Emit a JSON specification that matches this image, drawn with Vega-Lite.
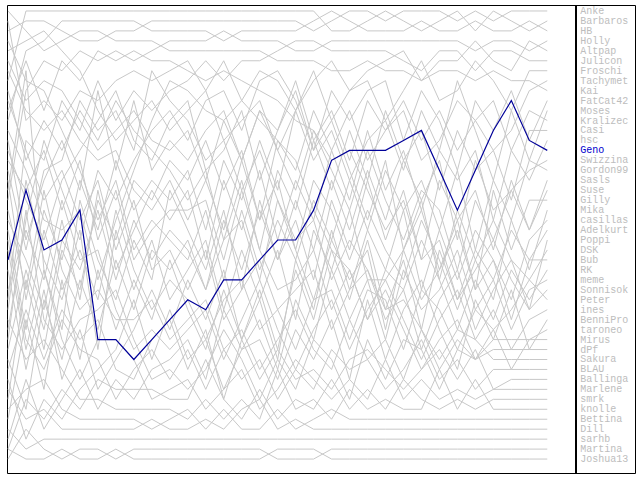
{
"$schema": "https://vega.github.io/schema/vega-lite/v6.json",
"width": 640, "height": 480,
"autosize": {"type": "fit", "contains": "padding"},
"padding": {"left": 5, "top": 4, "right": 5, "bottom": 6},
"background": "white",
"config": {"view": {"stroke": "black", "strokeWidth": 1}},
"datasets": {"ranks": [
{"n":"Anke","t":[1,2,3,4,5,6,7,8,9,10,11,12,13,14,15,16,17,18,19,20,21,22,23,24,25,26,27,28,29,30,31],"r":[3,2,2,3,4,4,3,3,2,2,2,2,2,2,2,2,2,3,2,1,1,2,1,1,1,2,1,2,1,1,1]},
{"n":"Barbaros","t":[1,2,3,4,5,6,7,8,9,10,11,12,13,14,15,16,17,18,19,20,21,22,23,24,25,26,27,28,29,30,31],"r":[8,1,1,1,1,1,1,1,1,1,1,1,1,1,1,1,1,1,3,3,2,1,2,3,2,1,3,1,2,3,2]},
{"n":"HB","t":[1,2,3,4,5,6,7,8,9,10,11,12,13,14,15,16,17,18,19,20,21,22,23,24,25,26,27,28,29,30,31],"r":[12,5,4,2,2,2,2,2,3,3,3,3,4,3,3,3,3,2,1,2,3,3,3,2,3,3,2,3,3,2,3]},
{"n":"Holly","t":[1,2,3,4,5,6,7,8,9,10,11,12,13,14,15,16,17,18,19,20,21,22,23,24,25,26,27,28,29,30,31],"r":[20,9,6,7,5,6,5,6,5,4,4,4,3,4,4,4,5,5,4,4,4,4,4,4,4,4,5,4,4,5,4]},
{"n":"Altpap","t":[1,2,3,4,5,6,7,8,9,10,11,12,13,14,15,16,17,18,19,20,21,22,23,24,25,26,27,28,29,30,31],"r":[2,12,10,12,9,10,8,7,8,7,6,9,6,10,7,8,11,8,6,9,7,6,5,8,6,6,4,6,7,4,5]},
{"n":"Julicon","t":[1,2,3,4,5,6,7,8,9,10,11,12,13,14,15,16,17,18,19,20,21,22,23,24,25,26,27,28,29,30,31],"r":[30,14,16,10,13,8,12,9,11,9,8,6,8,6,6,5,4,4,5,5,5,5,6,7,5,5,7,5,5,6,6]},
{"n":"Froschi","t":[1,2,3,4,5,6,7,8,9,10,11,12,13,14,15,16,17,18,19,20,21,22,23,24,25,26,27,28,29,30,31],"r":[5,4,3,5,7,11,14,12,10,13,11,9,14,12,10,15,11,7,12,9,8,12,9,6,10,9,6,8,11,7,7]},
{"n":"Tachymet","t":[1,2,3,4,5,6,7,8,9,10,11,12,13,14,15,16,17,18,19,20,21,22,23,24,25,26,27,28,29,30,31],"r":[15,20,24,18,15,12,9,14,16,12,10,17,15,11,18,13,8,14,11,16,10,13,11,16,14,10,12,15,13,9,8]},
{"n":"Kai","t":[1,2,3,4,5,6,7,8,9,10,11,12,13,14,15,16,17,18,19,20,21,22,23,24,25,26,27,28,29,30,31],"r":[1,3,5,4,3,3,4,4,4,5,5,5,5,5,5,6,6,6,7,7,6,7,7,8,7,7,8,7,8,8,9]},
{"n":"FatCat42","t":[1,2,3,4,5,6,7,8,9,10,11,12,13,14,15,16,17,18,19,20,21,22,23,24,25,26,27,28,29,30,31],"r":[33,22,14,19,24,17,20,16,13,11,14,10,9,13,8,7,10,15,9,12,9,8,14,9,12,17,10,13,9,14,10]},
{"n":"Moses","t":[1,2,3,4,5,6,7,8,9,10,11,12,13,14,15,16,17,18,19,20,21,22,23,24,25,26,27,28,29,30,31],"r":[18,30,21,26,18,23,16,21,18,20,17,23,16,20,14,19,11,16,13,18,14,12,17,11,15,8,13,18,11,16,11]},
{"n":"Kralizec","t":[1,2,3,4,5,6,7,8,9,10,11,12,13,14,15,16,17,18,19,20,21,22,23,24,25,26,27,28,29,30,31],"r":[40,28,35,25,29,20,24,18,20,16,18,14,19,15,22,14,17,11,15,11,16,13,10,14,11,15,12,10,15,11,12]},
{"n":"Casi","t":[1,2,3,4,5,6,7,8,9,10,11,12,13,14,15,16,17,18,19,20,21,22,23,24,25,26,27,28,29,30,31],"r":[9,16,12,15,11,14,10,13,15,17,20,17,24,18,25,17,21,14,19,13,18,11,16,13,19,13,17,15,20,13,13]},
{"n":"hsc","t":[1,2,3,4,5,6,7,8,9,10,11,12,13,14,15,16,17,18,19,20,21,22,23,24,25,26,27,28,29,30,31],"r":[22,26,31,22,30,19,27,23,19,22,19,26,18,23,17,24,18,22,15,20,13,19,15,21,15,18,15,22,15,18,14]},
{"n":"Geno","t":[1,2,3,4,5,6,7,8,9,10,11,12,13,14,15,16,17,18,19,20,21,22,23,24,25,26,27,28,29,30,31],"r":[26,19,25,24,21,34,34,36,34,32,30,31,28,28,26,24,24,21,16,15,15,15,14,13,17,21,17,13,10,14,15]},
{"n":"Swizzina","t":[1,2,3,4,5,6,7,8,9,10,11,12,13,14,15,16,17,18,19,20,21,22,23,24,25,26,27,28,29,30,31],"r":[36,41,30,36,28,33,26,31,25,27,24,29,22,27,21,26,20,25,18,23,17,22,16,20,16,24,16,21,19,17,16]},
{"n":"Gordon99","t":[1,2,3,4,5,6,7,8,9,10,11,12,13,14,15,16,17,18,19,20,21,22,23,24,25,26,27,28,29,30,31],"r":[4,8,9,13,17,22,18,25,22,24,26,21,28,21,27,22,26,20,24,18,23,17,21,18,23,17,25,18,22,16,17]},
{"n":"Sasls","t":[1,2,3,4,5,6,7,8,9,10,11,12,13,14,15,16,17,18,19,20,21,22,23,24,25,26,27,28,29,30,31],"r":[25,35,27,33,20,26,30,24,28,19,23,27,21,29,20,26,22,28,20,25,18,24,19,26,18,22,19,25,18,23,18]},
{"n":"Suse","t":[1,2,3,4,5,6,7,8,9,10,11,12,13,14,15,16,17,18,19,20,21,22,23,24,25,26,27,28,29,30,31],"r":[6,10,8,9,12,15,13,11,14,15,13,18,12,16,11,15,19,13,17,21,15,20,24,19,21,27,20,24,19,23,19]},
{"n":"Gilly","t":[1,2,3,4,5,6,7,8,9,10,11,12,13,14,15,16,17,18,19,20,21,22,23,24,25,26,27,28,29,30,31],"r":[31,18,26,30,23,35,23,29,24,30,27,24,31,25,30,25,32,23,27,21,28,28,25,21,27,22,29,19,25,20,20]},
{"n":"Mika","t":[1,2,3,4,5,6,7,8,9,10,11,12,13,14,15,16,17,18,19,20,21,22,23,24,25,26,27,28,29,30,31],"r":[14,24,18,14,19,9,17,10,17,14,16,13,11,16,11,13,9,15,12,17,22,16,25,20,28,21,26,30,22,27,21]},
{"n":"casillas","t":[1,2,3,4,5,6,7,8,9,10,11,12,13,14,15,16,17,18,19,20,21,22,23,24,25,26,27,28,29,30,31],"r":[42,32,39,28,36,27,33,28,32,26,31,35,29,34,30,36,26,31,23,29,23,27,21,29,23,28,23,26,30,24,22]},
{"n":"Adelkurt","t":[1,2,3,4,5,6,7,8,9,10,11,12,13,14,15,16,17,18,19,20,21,22,23,24,25,26,27,28,29,30,31],"r":[11,6,11,6,8,5,6,5,6,6,7,8,7,8,9,10,12,13,16,15,19,23,20,26,24,30,25,28,23,26,23]},
{"n":"Poppi","t":[1,2,3,4,5,6,7,8,9,10,11,12,13,14,15,16,17,18,19,20,21,22,23,24,25,26,27,28,29,30,31],"r":[27,37,29,38,33,39,36,33,29,33,28,32,27,34,29,35,27,32,25,30,24,31,26,33,25,30,27,24,28,31,24]},
{"n":"DSK","t":[1,2,3,4,5,6,7,8,9,10,11,12,13,14,15,16,17,18,19,20,21,22,23,24,25,26,27,28,29,30,31],"r":[7,11,13,11,14,16,15,19,21,18,22,18,23,16,22,18,25,18,21,26,21,25,28,22,26,31,26,22,26,28,25]},
{"n":"Bub","t":[1,2,3,4,5,6,7,8,9,10,11,12,13,14,15,16,17,18,19,20,21,22,23,24,25,26,27,28,29,30,31],"r":[35,27,33,24,27,21,28,22,26,23,25,29,24,22,28,20,25,30,24,28,25,33,25,30,27,23,29,26,32,26,26]},
{"n":"RK","t":[1,2,3,4,5,6,7,8,9,10,11,12,13,14,15,16,17,18,19,20,21,22,23,24,25,26,27,28,29,30,31],"r":[16,19,15,21,16,24,19,26,23,21,21,20,26,19,25,29,28,25,31,27,32,27,29,24,28,33,28,32,27,30,27]},
{"n":"meme","t":[1,2,3,4,5,6,7,8,9,10,11,12,13,14,15,16,17,18,19,20,21,22,23,24,25,26,27,28,29,30,31],"r":[44,38,43,40,37,41,38,40,37,36,34,38,31,35,32,37,30,34,27,32,28,34,27,31,29,25,31,28,33,29,28]},
{"n":"Sonnisok","t":[1,2,3,4,5,6,7,8,9,10,11,12,13,14,15,16,17,18,19,20,21,22,23,24,25,26,27,28,29,30,31],"r":[10,15,20,17,22,18,25,20,27,25,29,25,32,29,26,31,29,27,33,29,27,32,29,35,30,27,33,29,26,31,29]},
{"n":"Peter","t":[1,2,3,4,5,6,7,8,9,10,11,12,13,14,15,16,17,18,19,20,21,22,23,24,25,26,27,28,29,30,31],"r":[23,33,23,29,25,30,21,27,31,28,30,34,30,28,33,31,35,30,29,34,29,30,35,29,31,35,31,33,31,28,30]},
{"n":"ines","t":[1,2,3,4,5,6,7,8,9,10,11,12,13,14,15,16,17,18,19,20,21,22,23,24,25,26,27,28,29,30,31],"r":[29,23,28,20,26,25,31,35,33,35,33,31,36,32,28,33,37,33,30,35,31,28,32,36,32,29,34,31,35,32,31]},
{"n":"BenniPro","t":[1,2,3,4,5,6,7,8,9,10,11,12,13,14,15,16,17,18,19,20,21,22,23,24,25,26,27,28,29,30,31],"r":[38,44,40,42,39,37,35,30,36,31,36,34,39,35,34,38,33,36,32,38,30,36,31,28,33,37,30,34,29,35,32]},
{"n":"taroneo","t":[1,2,3,4,5,6,7,8,9,10,11,12,13,14,15,16,17,18,19,20,21,22,23,24,25,26,27,28,29,30,31],"r":[13,17,22,23,21,28,22,17,12,8,9,11,12,10,12,14,16,21,25,27,32,29,33,37,34,32,36,33,37,34,33]},
{"n":"Mirus","t":[1,2,3,4,5,6,7,8,9,10,11,12,13,14,15,16,17,18,19,20,21,22,23,24,25,26,27,28,29,30,31],"r":[21,29,19,27,31,29,32,32,30,34,32,30,35,33,37,34,31,35,37,32,36,34,38,33,37,34,36,34,34,34,34]},
{"n":"dPf","t":[1,2,3,4,5,6,7,8,9,10,11,12,13,14,15,16,17,18,19,20,21,22,23,24,25,26,27,28,29,30,31],"r":[34,21,32,35,32,31,29,34,38,37,39,37,33,36,40,36,39,34,36,40,34,38,34,35,39,35,36,35,35,35,35]},
{"n":"Sakura","t":[1,2,3,4,5,6,7,8,9,10,11,12,13,14,15,16,17,18,19,20,21,22,23,24,25,26,27,28,29,30,31],"r":[17,25,17,16,10,13,11,15,7,10,12,16,14,19,15,20,24,22,28,24,27,31,30,33,36,33,34,36,36,36,36]},
{"n":"BLAU","t":[1,2,3,4,5,6,7,8,9,10,11,12,13,14,15,16,17,18,19,20,21,22,23,24,25,26,27,28,29,30,31],"r":[24,34,37,32,35,36,40,37,35,38,35,39,35,38,36,40,37,39,35,37,36,39,37,34,38,36,39,37,37,37,37]},
{"n":"Ballinga","t":[1,2,3,4,5,6,7,8,9,10,11,12,13,14,15,16,17,18,19,20,21,22,23,24,25,26,27,28,29,30,31],"r":[37,31,36,31,34,32,37,38,34,32,37,33,40,34,38,35,38,37,39,36,35,37,39,37,35,38,35,39,38,38,38]},
{"n":"Marlene","t":[1,2,3,4,5,6,7,8,9,10,11,12,13,14,15,16,17,18,19,20,21,22,23,24,25,26,27,28,29,30,31],"r":[19,7,27,34,38,34,34,36,40,39,38,41,39,37,41,39,36,38,40,38,40,36,40,38,40,39,40,39,39,39,39]},
{"n":"smrk","t":[1,2,3,4,5,6,7,8,9,10,11,12,13,14,15,16,17,18,19,20,21,22,23,24,25,26,27,28,29,30,31],"r":[45,40,42,39,41,38,39,39,39,40,40,36,40,42,39,42,40,41,38,41,39,41,38,40,41,40,41,40,40,40,40]},
{"n":"knolle","t":[1,2,3,4,5,6,7,8,9,10,11,12,13,14,15,16,17,18,19,20,21,22,23,24,25,26,27,28,29,30,31],"r":[32,36,34,37,40,40,41,41,41,41,42,40,42,40,42,37,41,40,42,39,41,40,41,41,37,41,38,41,41,41,41]},
{"n":"Bettina","t":[1,2,3,4,5,6,7,8,9,10,11,12,13,14,15,16,17,18,19,20,21,22,23,24,25,26,27,28,29,30,31],"r":[41,39,38,41,42,42,42,42,43,42,41,43,41,43,43,41,43,42,41,42,42,42,42,42,42,42,42,42,42,42,42]},
{"n":"Dill","t":[1,2,3,4,5,6,7,8,9,10,11,12,13,14,15,16,17,18,19,20,21,22,23,24,25,26,27,28,29,30,31],"r":[39,42,41,43,43,43,43,43,42,43,43,42,43,41,40,43,42,43,43,43,43,43,43,43,43,43,43,43,43,43,43]},
{"n":"sarhb","t":[1,2,3,4,5,6,7,8,9,10,11,12,13,14,15,16,17,18,19,20,21,22,23,24,25,26,27,28,29,30,31],"r":[43,45,44,44,44,44,44,44,44,44,44,44,44,44,44,44,44,44,44,44,44,44,44,44,44,44,44,44,44,44,44]},
{"n":"Martina","t":[1,2,3,4,5,6,7,8,9,10,11,12,13,14,15,16,17,18,19,20,21,22,23,24,25,26,27,28,29,30,31],"r":[46,43,45,46,45,45,46,45,45,45,45,45,45,45,45,46,46,46,45,45,45,45,45,45,45,45,45,45,45,45,45]},
{"n":"Joshua13","t":[1,2,3,4,5,6,7,8,9,10,11,12,13,14,15,16,17,18,19,20,21,22,23,24,25,26,27,28,29,30,31],"r":[45,46,46,45,46,46,45,46,46,46,46,46,46,46,46,45,45,45,46,46,46,46,46,46,46,46,46,46,46,46,46]}
]},
"data": {"name": "ranks"},
"transform": [{"flatten": ["t", "r"]}],
"layer": [
{
"transform": [{"filter": "datum.n !== 'Geno'"}],
"mark": {"type": "line", "strokeWidth": 1, "color": "#c8c8c8"},
"encoding": {
"x": {"field": "t", "type": "quantitative", "scale": {"domain": [0.9445, 35.88], "nice": false, "zero": false}, "axis": null},
"y": {"field": "r", "type": "quantitative", "scale": {"domain": [0.4, 47.4], "nice": false, "zero": false, "reverse": true}, "axis": null},
"detail": {"field": "n", "type": "nominal"},
"order": {"field": "t", "type": "quantitative"}
}
},
{
"transform": [{"filter": "datum.n === 'Geno'"}],
"mark": {"type": "line", "strokeWidth": 1.2, "color": "#000099"},
"encoding": {
"x": {"field": "t", "type": "quantitative"},
"y": {"field": "r", "type": "quantitative"},
"order": {"field": "t", "type": "quantitative"}
}
},
{
"mark": {"type": "rule", "color": "black", "strokeWidth": 1},
"encoding": {"x": {"datum": 32.58}}
},
{
"transform": [{"filter": "datum.t === 31"}],
"mark": {"type": "text", "align": "left", "baseline": "middle", "font": "Liberation Mono", "fontSize": 10},
"encoding": {
"x": {"datum": 32.84},
"y": {"field": "r", "type": "quantitative"},
"text": {"field": "n"},
"color": {"condition": {"test": "datum.n === 'Geno'", "value": "#0000cc"}, "value": "#bdbdbd"}
}
}
]
}
